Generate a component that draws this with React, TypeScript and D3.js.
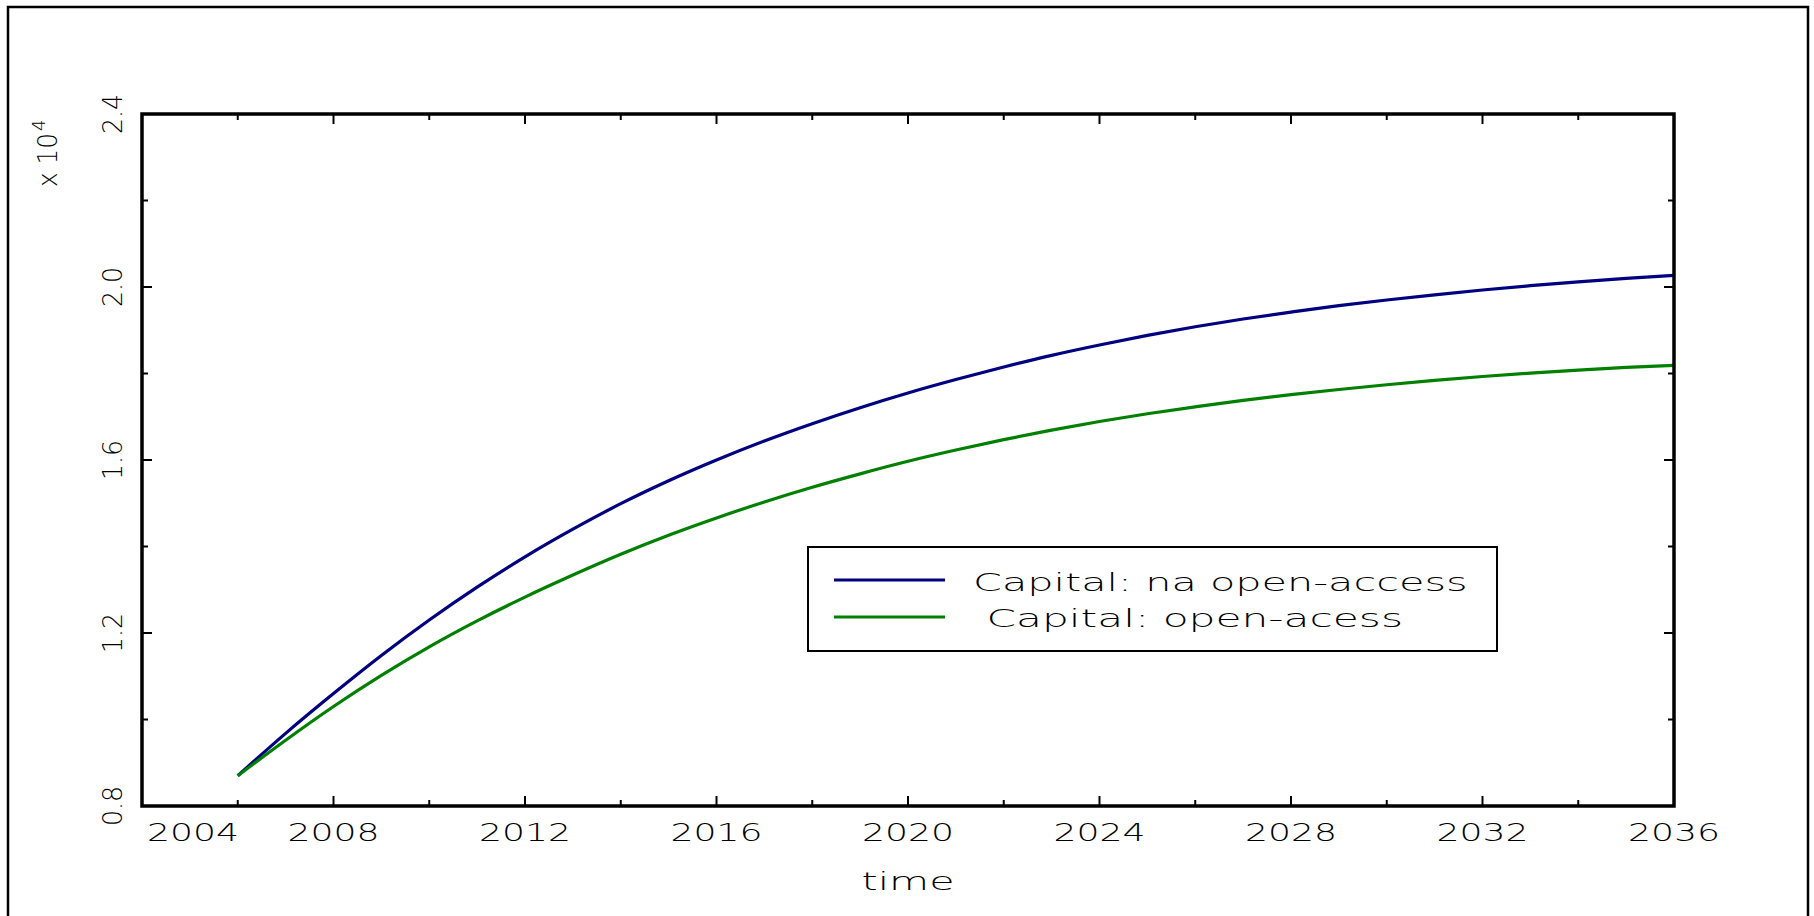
import React from "react";
import * as d3 from "d3";

const years = [2006, 2007, 2008, 2009, 2010, 2011, 2012, 2013, 2014, 2015, 2016, 2017, 2018, 2019, 2020, 2021, 2022, 2023, 2024, 2025, 2026, 2027, 2028, 2029, 2030, 2031, 2032, 2033, 2034, 2035, 2036];
const capitalNoOpenAccess = [8700, 9680, 10600, 11480, 12300, 13060, 13760, 14400, 14990, 15520, 16000, 16440, 16840, 17210, 17550, 17860, 18150, 18420, 18660, 18880, 19080, 19260, 19420, 19570, 19700, 19820, 19930, 20030, 20120, 20200, 20270];
const capitalOpenAccess = [8700, 9520, 10300, 11020, 11680, 12280, 12830, 13340, 13820, 14260, 14660, 15030, 15370, 15680, 15970, 16230, 16470, 16690, 16890, 17070, 17230, 17380, 17510, 17630, 17740, 17840, 17930, 18010, 18080, 18140, 18190];
const seriesNames = ["Capital: na open-access", " Capital: open-acess"];
const seriesColors = ["#000080", "#008000"];
const xTickValues = [2004, 2006, 2008, 2010, 2012, 2014, 2016, 2018, 2020, 2022, 2024, 2026, 2028, 2030, 2032, 2034, 2036];
const xTickLabels = ["2004", "", "2008", "", "2012", "", "2016", "", "2020", "", "2024", "", "2028", "", "2032", "", "2036"];
const yTickValues = [8000, 10000, 12000, 14000, 16000, 18000, 20000, 22000, 24000];
const yTickLabels = ["0.8", "", "1.2", "", "1.6", "", "2.0", "", "2.4"];
const xAxisTitle = "time";

const W = 1814;
const H = 916;
const L = 142, R = 1674, T = 114, B = 806;
const FONT = "'DejaVu Sans', sans-serif";

export default function App() {
  const x = d3.scaleLinear().domain([2004, 2036]).range([L, R]);
  const y = d3.scaleLinear().domain([8000, 24000]).range([B, T]);
  const line = d3.line<number>().x((_, i) => x(years[i])).y((d) => y(d)).curve(d3.curveMonotoneX);
  const series = [capitalNoOpenAccess, capitalOpenAccess];

  return (
    <svg width={W} height={H} style={{ position: "absolute", left: 0, top: 0, display: "block", background: "#fff" }}>
      <rect x={8} y={7} width={1800} height={940} fill="#fff" stroke="#000" strokeWidth={2.5} />
      {series.map((s, i) => (
        <path key={i} d={line(s) || ""} fill="none" stroke={seriesColors[i]} strokeWidth={3.2} />
      ))}
      {xTickValues.map((v, i) => {
        const len = xTickLabels[i] ? 10 : 6;
        return (
          <g key={"xt" + v} stroke="#000" strokeWidth={2}>
            <line x1={x(v)} x2={x(v)} y1={B} y2={B - len} />
            <line x1={x(v)} x2={x(v)} y1={T} y2={T + len} />
          </g>
        );
      })}
      {yTickValues.map((v, i) => {
        const len = yTickLabels[i] ? 10 : 6;
        return (
          <g key={"yt" + v} stroke="#000" strokeWidth={2}>
            <line x1={L} x2={L + len} y1={y(v)} y2={y(v)} />
            <line x1={R} x2={R - len} y1={y(v)} y2={y(v)} />
          </g>
        );
      })}
      <rect x={L} y={T} width={R - L} height={B - T} fill="none" stroke="#000" strokeWidth={3.5} />
      {xTickValues.map((v, i) =>
        xTickLabels[i] ? (
          <text
            key={"xl" + v}
            x={i === 0 ? L + 5 : x(v)}
            y={841}
            textAnchor={i === 0 ? "start" : "middle"}
            fontFamily={FONT}
            fontWeight={200}
            fontSize={25}
            textLength={92}
            lengthAdjust="spacingAndGlyphs"
            fill="#000"
          >
            {xTickLabels[i]}
          </text>
        ) : null
      )}
      {yTickValues.map((v, i) =>
        yTickLabels[i] ? (
          <text
            key={"yl" + v}
            transform={`translate(122,${y(v)}) rotate(-90)`}
            textAnchor="middle"
            fontFamily={FONT}
            fontWeight={200}
            fontSize={27}
            textLength={40}
            lengthAdjust="spacingAndGlyphs"
            fill="#000"
          >
            {yTickLabels[i]}
          </text>
        ) : null
      )}
      <text transform="translate(57,187) rotate(-90)" fontFamily={FONT} fontWeight={200} fontSize={27} fill="#000">
        <tspan textLength={54} lengthAdjust="spacingAndGlyphs">x 10</tspan>
        <tspan dx={2} dy={-12} fontSize={18}>4</tspan>
      </text>
      <text x={(L + R) / 2} y={890} textAnchor="middle" fontFamily={FONT} fontWeight={200} fontSize={25} textLength={93} lengthAdjust="spacingAndGlyphs" fill="#000">
        {xAxisTitle}
      </text>
      <rect x={808} y={547} width={689} height={104} fill="#fff" stroke="#000" strokeWidth={2} />
      {seriesNames.map((n, i) => (
        <g key={"lg" + i}>
          <line x1={834} x2={945} y1={580 + i * 37} y2={580 + i * 37} stroke={seriesColors[i]} strokeWidth={3.2} />
          <text
            x={973}
            y={591 + i * 36}
            fontFamily={FONT}
            fontWeight={200}
            fontSize={24}
            textLength={n.length * 21.5}
            lengthAdjust="spacingAndGlyphs"
            style={{ whiteSpace: "pre" }}
            fill="#000"
          >
            {n}
          </text>
        </g>
      ))}
    </svg>
  );
}
